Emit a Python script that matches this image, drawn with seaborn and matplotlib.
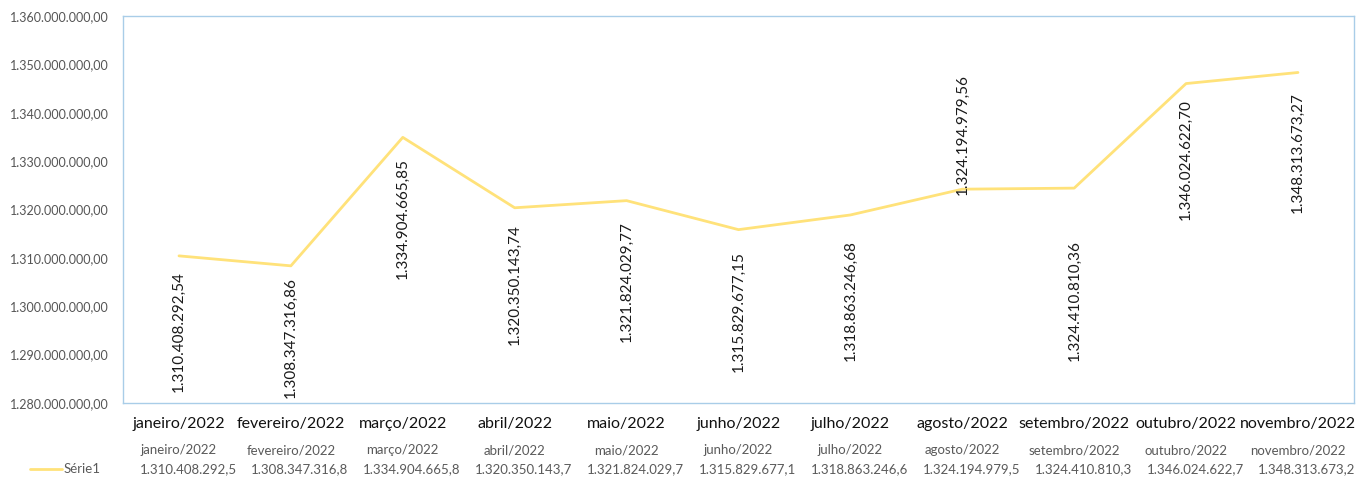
import numpy as np
import pandas as pd
import matplotlib
matplotlib.use('Agg')
import matplotlib.pyplot as plt
import matplotlib.transforms as mtransforms
from matplotlib.lines import Line2D
import seaborn as sns

# Monthly values (R$)
meses = ['janeiro/2022', 'fevereiro/2022', 'março/2022', 'abril/2022', 'maio/2022',
         'junho/2022', 'julho/2022', 'agosto/2022', 'setembro/2022', 'outubro/2022',
         'novembro/2022']
valores = [1310408292.54, 1308347316.86, 1334904665.85, 1320350143.74, 1321824029.77,
           1315829677.15, 1318863246.68, 1324194979.56, 1324410810.36, 1346024622.70,
           1348313673.27]
serie = 'Série1'

# gap (pixels) between point and top of its label; negative = label above
label_gap = [15, 11, 21, 16, 20, 21, 25, -115, 52, 16, 20]


def fmt_br(v, dec=2):
    s = f'{v:,.{dec}f}'
    return s.replace(',', 'X').replace('.', ',').replace('X', '.')


def fmt_trunc(v):
    t = np.floor(v * 10) / 10
    return fmt_br(t, 1)


data = pd.DataFrame({'mes': meses, 'valor': valores})

sns.set_style('white')
plt.rcParams['font.family'] = ['Lato', 'DejaVu Sans']

fig = plt.figure(figsize=(13.58, 4.79), dpi=100)
ax = fig.add_axes([0.0906, 0.1587, 0.9064, 0.8080])

sns.lineplot(data=data, x='mes', y='valor', color='#FFE27A', linewidth=2.0,
             sort=False, ax=ax)

ticks = np.arange(1.28e9, 1.36e9 + 1, 1e7)
ax.set_ylim(1.28e9, 1.36e9)
ax.set_xlim(-0.5, len(meses) - 0.5)
ax.set_yticks(ticks)
ax.set_yticklabels([fmt_br(v) for v in ticks], fontsize=9, color='#555555')
ax.set_xticks(range(len(meses)))
ax.set_xticklabels(meses, fontsize=11.5, color='#111111')
ax.tick_params(axis='both', length=0)
ax.tick_params(axis='x', pad=10)
ax.tick_params(axis='y', pad=10)
ax.set_xlabel('')
ax.set_ylabel('')

for sp in ax.spines.values():
    sp.set_color('#a9cde8')
    sp.set_linewidth(1.0)

# data labels
for i, v in enumerate(valores):
    g = label_gap[i]
    ax.annotate(fmt_br(v), xy=(i, v), xytext=(0, -g), textcoords='offset pixels',
                rotation=90, ha='center', va='top', fontsize=11, color='#1a1a1a')

# data table below the axis
trans = mtransforms.blended_transform_factory(ax.transData, fig.transFigure)
for i, (m, v) in enumerate(zip(meses, valores)):
    ax.text(i, 0.060, m, transform=trans, ha='center', va='center',
            fontsize=9.5, color='#5a5a5a')
    ax.text(i + 0.08, 0.021, fmt_trunc(v), transform=trans, ha='center', va='center',
            fontsize=9.5, color='#5a5a5a')

fig.add_artist(Line2D([0.022, 0.046], [0.021, 0.021], color='#FFE27A', linewidth=2.0,
                      transform=fig.transFigure))
fig.text(0.047, 0.021, serie, ha='left', va='center', fontsize=9.5, color='#5a5a5a')

fig.savefig('out.png', dpi=100)
